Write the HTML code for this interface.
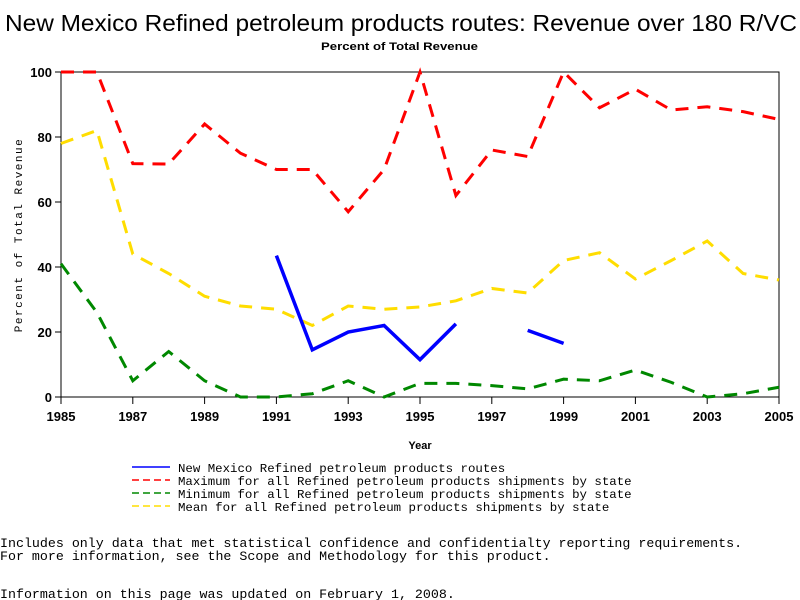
<!DOCTYPE html>
<html><head><meta charset="utf-8"><style>
body{margin:0;background:#fff;width:800px;height:600px;overflow:hidden}
svg{display:block}
text{fill:#000}
.m{font-family:"Liberation Mono",monospace}
</style></head><body>
<svg width="800" height="600" xmlns="http://www.w3.org/2000/svg">
<text x="5" y="31" textLength="792" lengthAdjust="spacingAndGlyphs" font-family="Liberation Sans, sans-serif" font-size="23">New Mexico Refined petroleum products routes: Revenue over 180 R/VC</text>
<text x="321" y="50" textLength="157" lengthAdjust="spacingAndGlyphs" font-family="Liberation Sans, sans-serif" font-size="11" font-weight="bold">Percent of Total Revenue</text>
<rect x="61" y="72" width="718" height="325" fill="none" stroke="#000" stroke-width="1"/>
<g id="axes"></g>
<g id="series"></g>
<text x="420" y="449" text-anchor="middle" font-family="Liberation Sans, sans-serif" font-size="11" font-weight="bold">Year</text>
<text transform="translate(22,235) rotate(-90)" text-anchor="middle" class="m" font-size="11" letter-spacing="1.5">Percent of Total Revenue</text>
<g class="m" font-size="12.4">
<line x1="132" y1="467" x2="170" y2="467" stroke="#00f" stroke-width="1.5"/>
<text x="178" y="472">New Mexico Refined petroleum products routes</text>
<line x1="132" y1="480" x2="170" y2="480" stroke="#f00" stroke-width="1.5" stroke-dasharray="7,4"/>
<text x="178" y="485">Maximum for all Refined petroleum products shipments by state</text>
<line x1="132" y1="493" x2="170" y2="493" stroke="#080" stroke-width="1.5" stroke-dasharray="7,4"/>
<text x="178" y="498">Minimum for all Refined petroleum products shipments by state</text>
<line x1="132" y1="506" x2="170" y2="506" stroke="#fd0" stroke-width="1.5" stroke-dasharray="7,4"/>
<text x="178" y="511">Mean for all Refined petroleum products shipments by state</text>
</g>
<g class="m" font-size="13.3">
<text x="0" y="547">Includes only data that met statistical confidence and confidentialty reporting requirements.</text>
<text x="0" y="560">For more information, see the Scope and Methodology for this product.</text>
<text x="0" y="598">Information on this page was updated on February 1, 2008.</text>
</g>
</svg>
<script>
const years=[1985,1986,1987,1988,1989,1990,1991,1992,1993,1994,1995,1996,1997,1998,1999,2000,2001,2002,2003,2004,2005];
const maxVals=[100,100,71.8,71.7,84,75,70,70,57,70,100,62,76,74,100,89,94.7,88.3,89.3,87.8,85.4];
const meanVals=[78,82,44,38,31,28,27,22,28,27,27.7,29.6,33.4,32,42,44.4,36.3,42,48,38,36];
const minVals=[41,26,5,14,5,0,0,1,5,0,4.2,4.2,3.5,2.5,5.5,5,8.3,4.5,0,1,3];
const nmVals=[null,null,null,null,null,null,43.5,14.5,20,22,11.5,22.5,null,20.5,16.5,null,null,null,null,null,null];
const xTicks=[1985,1987,1989,1991,1993,1995,1997,1999,2001,2003,2005];
const yTicks=[0,20,40,60,80,100];
const NS="http://www.w3.org/2000/svg";
const x=v=>61+(v-1985)*(718/20);
const y=v=>397-v*3.25;
const axes=document.getElementById('axes'), series=document.getElementById('series');
function mk(t,a,p){const e=document.createElementNS(NS,t);for(const k in a)e.setAttribute(k,a[k]);p.appendChild(e);return e;}
xTicks.forEach(t=>{
  const l=mk('line',{x1:x(t),y1:397,x2:x(t),y2:404,stroke:'#000'},axes);
  
  
  const tx=mk('text',{x:x(t),y:421,'text-anchor':'middle','font-family':'Liberation Sans, sans-serif','font-size':'13','font-weight':'bold'},axes);
  tx.textContent=t;
  
  
});
yTicks.forEach(t=>{
  const l=mk('line',{x1:55,y1:y(t),x2:61,y2:y(t),stroke:'#000'},axes);
  
  
  const tx=mk('text',{x:52,y:y(t)+5,'text-anchor':'end','font-family':'Liberation Sans, sans-serif','font-size':'13','font-weight':'bold'},axes);
  tx.textContent=t;
  
  
});
function draw(vals,color,dash,w,name){
  let segs=[],cur=[];
  vals.forEach((v,i)=>{if(v==null){if(cur.length)segs.push(cur);cur=[];}else cur.push(x(years[i])+','+y(v));});
  if(cur.length)segs.push(cur);
  segs.forEach(s=>{
    const p=mk('polyline',{points:s.join(' '),fill:'none',stroke:color,'stroke-width':w,'stroke-dasharray':dash,'stroke-linejoin':'miter'},series);
    
    
  });
}
draw(maxVals,'#f00','13,9',3,'max-line');
draw(meanVals,'#fd0','13,9',3,'mean-line');
draw(minVals,'#080','13,9',3,'min-line');
draw(nmVals,'#00f','none',3.5,'nm-line');
</script>
</body></html>
